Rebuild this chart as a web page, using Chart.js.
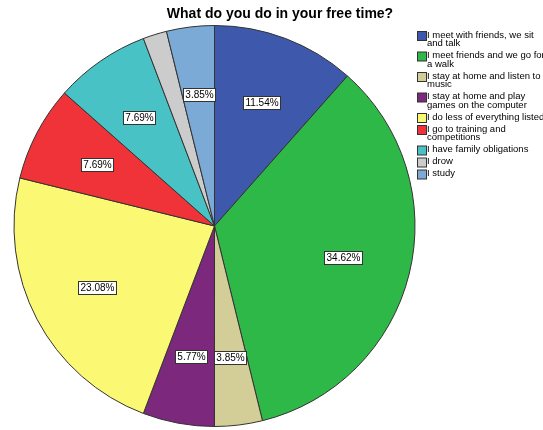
<!DOCTYPE html>
<html>
<head>
<meta charset="utf-8">
<script src="https://cdn.jsdelivr.net/npm/chart.js@4.4.0/dist/chart.umd.min.js"></script>
<style>
  html, body { margin: 0; padding: 0; background: #fff; }
  #wrap { width: 543px; height: 430px; }
</style>
</head>
<body>
<div id="wrap"><canvas id="myChart" width="543" height="430"></canvas></div>
<script>
// Categorias (con saltos de linea como en la leyenda original)
const categorias = [
    ["I meet with friends, we sit", "and talk"],
    ["I meet friends and we go for", "a walk"],
    ["I stay at home and listen to", "music"],
    ["I stay at home and play", "games on the computer"],
    ["I do less of everything listed"],
    ["I go to training and", "competitions"],
    ["I have family obligations"],
    ["I drow"],
    ["I study"]
];
// Porcentajes
const porcentajes = [11.54, 34.62, 3.85, 5.77, 23.08, 7.69, 7.69, 1.92, 3.85];
const colores = ["#3E58AC", "#2EB848", "#D3CE97", "#7C287D", "#FBF873", "#EF3338", "#48C2C5", "#CCCCCC", "#7AAAD5"];
const titulo = "What do you do in your free time?";

// Etiquetas con caja blanca dentro de cada porcion
const etiquetas = {
    id: "etiquetas",
    afterDatasetsDraw(chart) {
        const ctx = chart.ctx;
        const meta = chart.getDatasetMeta(0);
        ctx.save();
        ctx.font = "10px Arial, 'Liberation Sans', sans-serif";
        ctx.textAlign = "center";
        ctx.textBaseline = "middle";
        meta.data.forEach((arc, i) => {
            const v = porcentajes[i];
            if (v < 3) return;
            const mid = (arc.startAngle + arc.endAngle) / 2;
            const r = arc.outerRadius * 0.66;
            const x = arc.x + Math.cos(mid) * r;
            const y = arc.y + Math.sin(mid) * r;
            const txt = v.toFixed(2) + "%";
            const w = Math.round(ctx.measureText(txt).width + 4);
            const h = 13;
            const bx = Math.round(x - w / 2) + 0.5;
            const by = Math.round(y - h / 2) + 0.5;
            ctx.fillStyle = "#fff";
            ctx.fillRect(bx, by, w, h);
            ctx.strokeStyle = "#333";
            ctx.lineWidth = 1;
            ctx.strokeRect(bx, by, w, h);
            ctx.fillStyle = "#000";
            ctx.fillText(txt, bx + w / 2, by + h / 2 + 0.5);
        });
        ctx.restore();
    }
};

// Titulo y leyenda dibujados a mano (la leyenda se corta en el borde)
const leyenda = {
    id: "leyenda",
    afterDraw(chart) {
        const ctx = chart.ctx;
        ctx.save();
        ctx.fillStyle = "#000";
        ctx.font = "bold 14px Arial, 'Liberation Sans', sans-serif";
        ctx.textAlign = "center";
        ctx.textBaseline = "middle";
        ctx.fillText(titulo, 280, 14);

        ctx.font = "9.5px Arial, 'Liberation Sans', sans-serif";
        ctx.textAlign = "left";
        ctx.textBaseline = "middle";
        let y = 31;
        categorias.forEach((lineas, i) => {
            ctx.fillStyle = colores[i];
            ctx.fillRect(417.5, y + 0.5, 9, 9);
            ctx.strokeStyle = "#333";
            ctx.strokeRect(417.5, y + 0.5, 9, 9);
            ctx.fillStyle = "#000";
            lineas.forEach((l, j) => ctx.fillText(l, 427, y + 4 + j * 8.5));
            y += lineas.length * 8.5 + 3.5;
        });
        ctx.restore();
    }
};

const cnv = document.getElementById("myChart");
new Chart(cnv, {
    type: "pie",
    data: {
        labels: categorias.map(c => c.join(" ")),
        datasets: [{
            data: porcentajes,
            backgroundColor: colores,
            borderColor: "#333",
            borderWidth: 1
        }]
    },
    options: {
        responsive: false,
        animation: false,
        layout: { padding: { left: 13, right: 127, top: 25, bottom: 3 } },
        plugins: {
            legend: { display: false },
            title: { display: false },
            tooltip: { enabled: false }
        }
    },
    plugins: [etiquetas, leyenda]
});
</script>
</body>
</html>
